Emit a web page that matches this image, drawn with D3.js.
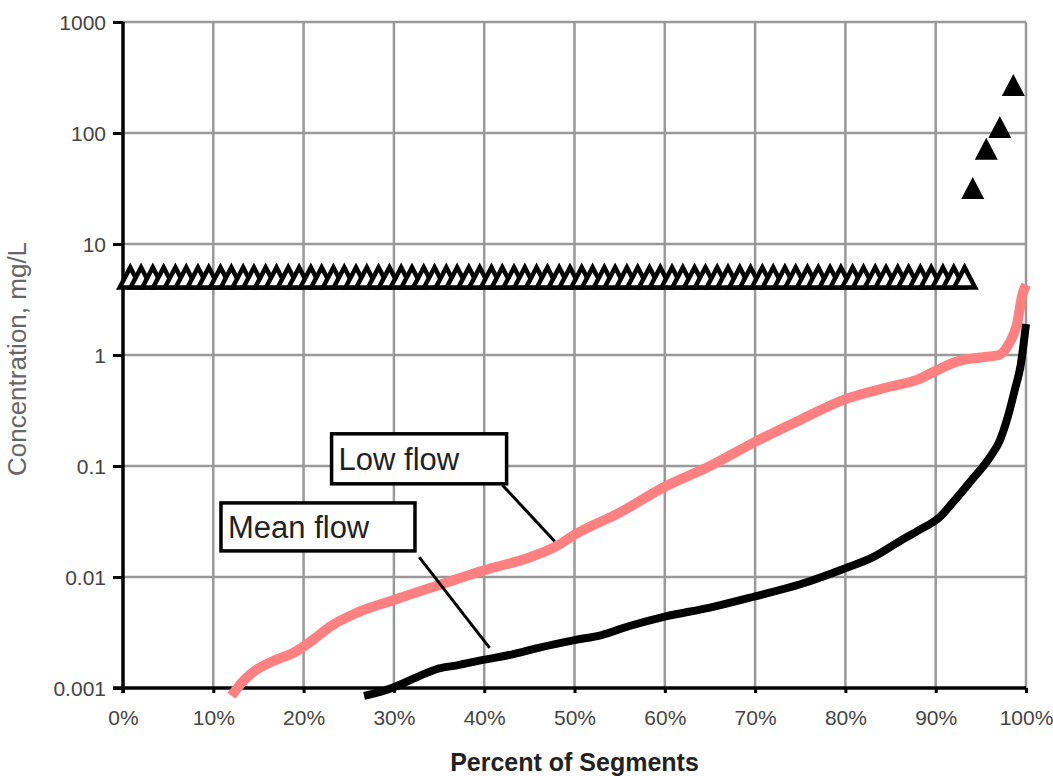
<!DOCTYPE html>
<html>
<head>
<meta charset="utf-8">
<script src="https://cdn.jsdelivr.net/npm/d3@7"></script>
<style>
  body { margin: 0; background: #fff; }
  svg text { font-family: "Liberation Sans", Arial, sans-serif; }
</style>
</head>
<body>
<div id="chart"></div>
<script>
// tick labels
var xTicks = [0, 10, 20, 30, 40, 50, 60, 70, 80, 90, 100];
var yTicks = [0.001, 0.01, 0.1, 1, 10, 100, 1000];

// Low flow series (percent of segments, mg/L)
var lowPct  = [12.0, 13.5, 15, 17, 19, 21, 23, 26, 30, 33, 36, 40, 45, 48, 50, 55, 60, 65, 70, 75, 80, 85, 88, 90, 92.5, 95, 97, 98.2, 99, 99.6, 100];
var lowConc = [0.00085, 0.0012, 0.0015, 0.0018, 0.0021, 0.0027, 0.0036, 0.0048, 0.0062, 0.0075, 0.009, 0.0115, 0.015, 0.019, 0.024, 0.038, 0.065, 0.1, 0.165, 0.26, 0.4, 0.52, 0.6, 0.72, 0.88, 0.95, 1.0, 1.3, 1.9, 3.5, 4.3];

// Mean flow series
var meanPct  = [26.7, 29, 31, 33, 35, 37, 40, 43, 46, 50, 53, 56, 60, 65, 70, 75, 80, 83, 86, 88, 90.5, 92, 94, 96, 97.1, 98, 98.8, 99.4, 100];
var meanConc = [0.00085, 0.00095, 0.0011, 0.0013, 0.0015, 0.0016, 0.0018, 0.002, 0.0023, 0.0027, 0.003, 0.0036, 0.0044, 0.0053, 0.0067, 0.0086, 0.012, 0.015, 0.021, 0.026, 0.035, 0.048, 0.075, 0.12, 0.17, 0.28, 0.5, 0.8, 1.9];

// open triangles (all sit at the same concentration)
var openPct = [0.8, 2.0, 3.3, 4.5, 5.8, 7.0, 8.3, 9.5, 10.8, 12.0, 13.3, 14.5, 15.8, 17.0, 18.3, 19.5, 20.8, 22.0, 23.3, 24.5,
  25.8, 27.0, 28.3, 29.5, 30.8, 32.0, 33.3, 34.5, 35.8, 37.0, 38.3, 39.5, 40.8, 42.0, 43.3, 44.5, 45.8, 47.0, 48.3, 49.5,
  50.8, 52.0, 53.3, 54.5, 55.8, 57.0, 58.3, 59.5, 60.8, 62.0, 63.3, 64.5, 65.8, 67.0, 68.3, 69.5, 70.8, 72.0, 73.3, 74.5,
  75.8, 77.0, 78.3, 79.5, 80.8, 82.0, 83.3, 84.5, 85.8, 87.0, 88.3, 89.5, 90.8, 92.0, 93.2];
var openConc = 5;

// filled triangles
var filledPct  = [94.1, 95.6, 97.1, 98.6];
var filledConc = [32, 72, 113, 270];

var margin = {top: 22, right: 27, bottom: 88, left: 123},
    width = 1053 - margin.left - margin.right,
    height = 776 - margin.top - margin.bottom;

var svg = d3.select("#chart")
  .append("svg")
    .attr("width", 1053)
    .attr("height", 776)
  .append("g")
    .attr("transform", "translate(" + margin.left + "," + margin.top + ")");

var x = d3.scaleLinear().domain([0, 100]).range([0, width]);
var y = d3.scaleLog().domain([0.001, 1000]).range([height, 0]);

// gridlines
svg.append("g")
  .selectAll("line.h")
  .data(yTicks.slice(1))
  .enter().append("line")
    .attr("x1", 0).attr("x2", width)
    .attr("y1", function(d) { return y(d); })
    .attr("y2", function(d) { return y(d); })
    .attr("stroke", "#999").attr("stroke-width", 2.5);
svg.append("g")
  .selectAll("line.v")
  .data(xTicks.slice(1))
  .enter().append("line")
    .attr("y1", 0).attr("y2", height)
    .attr("x1", function(d) { return x(d); })
    .attr("x2", function(d) { return x(d); })
    .attr("stroke", "#999").attr("stroke-width", 2.5);

// axes
var xAxis = svg.append("g")
  .attr("transform", "translate(0," + height + ")")
  .call(d3.axisBottom(x).tickValues(xTicks).tickSize(5).tickSizeOuter(0)
    .tickFormat(function(d) { return d + "%"; }));
var yAxis = svg.append("g")
  .call(d3.axisLeft(y).tickValues(yTicks).tickSize(10).tickSizeOuter(0)
    .tickFormat(function(d) { return String(d); }));

xAxis.select(".domain").attr("stroke", "#000").attr("stroke-width", 3.5).attr("d", "M-10,0H" + width);
yAxis.select(".domain").attr("stroke", "#000").attr("stroke-width", 3.5).attr("d", "M0,0V" + (height + 5));
xAxis.selectAll(".tick line").attr("stroke", "#000").attr("stroke-width", 3);
yAxis.selectAll(".tick line").attr("stroke", "#000").attr("stroke-width", 3);
xAxis.selectAll(".tick text")
  .attr("font-size", 21).attr("fill", "#444").attr("dy", null).attr("y", 37);
yAxis.selectAll(".tick text")
  .attr("font-size", 21).attr("fill", "#444").attr("x", -17).attr("dy", "0.35em");

// axis titles
svg.append("text")
  .attr("x", x(50)).attr("y", height + 83)
  .attr("text-anchor", "middle")
  .attr("font-size", 25).attr("font-weight", "bold").attr("fill", "#222")
  .text("Percent of Segments");
svg.append("text")
  .attr("transform", "translate(" + (-97) + "," + (height / 2 + 4) + ") rotate(-90)")
  .attr("text-anchor", "middle")
  .attr("font-size", 26).attr("fill", "#666")
  .text("Concentration, mg/L");

// lines
var line = d3.line()
  .x(function(d) { return x(d[0]); })
  .y(function(d) { return y(d[1]); })
  .curve(d3.curveMonotoneX);

svg.append("path")
  .datum(lowPct.map(function(p, i) { return [p, lowConc[i]]; }))
  .attr("d", line)
  .attr("fill", "none").attr("stroke", "#ff8080").attr("stroke-width", 10);

svg.append("path")
  .datum(meanPct.map(function(p, i) { return [p, meanConc[i]]; }))
  .attr("d", line)
  .attr("fill", "none").attr("stroke", "#000").attr("stroke-width", 8);

// triangles
var tri = "M0,-10L10.5,10H-10.5Z";
svg.append("g")
  .selectAll("path")
  .data(openPct)
  .enter().append("path")
    .attr("d", tri)
    .attr("transform", function(d) { return "translate(" + x(d) + "," + y(openConc) + ")"; })
    .attr("fill", "#fff").attr("stroke", "#000").attr("stroke-width", 4.5)
    .attr("stroke-linejoin", "miter");

svg.append("g")
  .selectAll("path")
  .data(filledPct)
  .enter().append("path")
    .attr("d", "M0,-11L11.5,11H-11.5Z")
    .attr("transform", function(d, i) { return "translate(" + x(d) + "," + y(filledConc[i]) + ")"; })
    .attr("fill", "#000");

// callouts
function callout(label, boxPct, boxConc, w, h, fromPct, fromConc, toPct, toConc) {
  svg.append("line")
    .attr("x1", x(fromPct)).attr("y1", y(fromConc))
    .attr("x2", x(toPct)).attr("y2", y(toConc))
    .attr("stroke", "#000").attr("stroke-width", 3);
  svg.append("rect")
    .attr("x", x(boxPct)).attr("y", y(boxConc))
    .attr("width", w).attr("height", h)
    .attr("fill", "#fff").attr("stroke", "#000").attr("stroke-width", 3.5);
  svg.append("text")
    .attr("x", x(boxPct) + 7).attr("y", y(boxConc) + h / 2 + 11)
    .attr("font-size", 31).attr("fill", "#222")
    .text(label);
}
callout("Low flow", 23.1, 0.195, 175, 50, 42.0, 0.0675, 47.8, 0.021);
callout("Mean flow", 10.85, 0.0465, 194, 48, 32.8, 0.0151, 40.6, 0.0023);
</script>
</body>
</html>
